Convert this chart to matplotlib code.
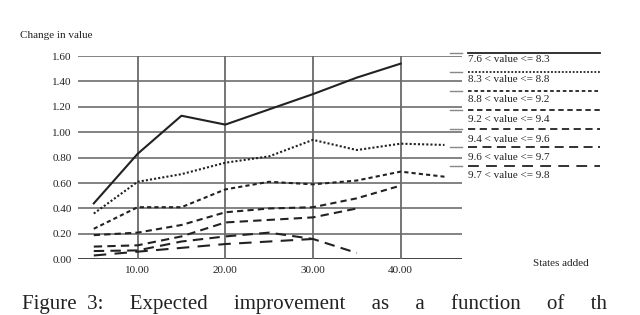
import matplotlib
matplotlib.use('Agg')
import matplotlib.pyplot as plt
from matplotlib.lines import Line2D

plt.rcParams['font.family'] = ['Liberation Serif', 'DejaVu Serif']

# states added (x) and change in value for each value band
states = [5, 10, 15, 20, 25, 30, 35, 40, 45]
labels = ['7.6 < value <= 8.3', '8.3 < value <= 8.8', '8.8 < value <= 9.2',
          '9.2 < value <= 9.4', '9.4 < value <= 9.6', '9.6 < value <= 9.7',
          '9.7 < value <= 9.8']
v1 = [0.44, 0.83, 1.13, 1.06, 1.18, 1.30, 1.43, 1.54]
v2 = [0.36, 0.61, 0.67, 0.76, 0.81, 0.94, 0.86, 0.91, 0.90]
v3 = [0.24, 0.41, 0.41, 0.55, 0.61, 0.59, 0.62, 0.69, 0.65]
v4 = [0.19, 0.21, 0.27, 0.37, 0.40, 0.41, 0.48, 0.58]
v5 = [0.10, 0.11, 0.18, 0.29, 0.31, 0.33, 0.40]
v6 = [0.065, 0.07, 0.14, 0.18, 0.21, 0.16, 0.05]
v7 = [0.03, 0.06, 0.09, 0.12, 0.14, 0.16]
series = [v1, v2, v3, v4, v5, v6, v7]

styles = ['-', (0, (1, 1)), (0, (2, 1.5)), (0, (3, 2)), (0, (4, 2.5)),
          (0, (5, 3)), (0, (6, 4))]

fig = plt.figure(figsize=(6.4, 3.15), dpi=100)
ax = fig.add_axes([78 / 640, 1 - 259.3 / 315, (462 - 78) / 640, (259.3 - 56) / 315])

ax.set_xlim(3.2, 47.0)
ax.set_ylim(0, 1.6)
for s in ax.spines.values():
    s.set_visible(False)

# grid
for yv in [0.2, 0.4, 0.6, 0.8, 1.0, 1.2, 1.4, 1.6]:
    ax.axhline(yv, color='#7a7a7a', lw=1.3, zorder=1)
ax.axhline(0, color='#222222', lw=1.2, zorder=1)
for xv in [10, 20, 30, 40]:
    ax.axvline(xv, color='#6a6a6a', lw=1.3, zorder=1)

for vals, ls in zip(series, styles):
    ax.plot(states[:len(vals)], vals, color='#222222', lw=1.5, linestyle=ls, zorder=3)

ax.set_yticks([0, 0.2, 0.4, 0.6, 0.8, 1.0, 1.2, 1.4, 1.6])
ax.set_yticklabels(['0.00', '0.20', '0.40', '0.60', '0.80', '1.00', '1.20', '1.40', '1.60'])
ax.set_xticks([10, 20, 30, 40])
ax.set_xticklabels(['10.00', '20.00', '30.00', '40.00'])
ax.tick_params(length=0, labelsize=8, colors='#222222')
ax.tick_params(axis='y', pad=4.5)
ax.tick_params(axis='x', pad=5)

fig.text(20 / 640, 1 - 35 / 315, 'Change in value', fontsize=8, va='center', color='#222222')
fig.text(533 / 640, 1 - 264 / 315, 'States added', fontsize=8, va='center', color='#222222')

# legend: sample line above each label
text_y = [60, 80, 100, 119, 139, 158, 176]
line_y = [53, 72, 91, 110, 129, 147, 166]
for lab, ls, ty, ly in zip(labels, styles, text_y, line_y):
    fig.add_artist(Line2D([468 / 640, 600 / 640], [1 - ly / 315, 1 - ly / 315],
                          color='#222222', lw=1.3, linestyle=ls))
    fig.add_artist(Line2D([450 / 640, 462 / 640], [1 - ly / 315, 1 - ly / 315],
                          color='#888888', lw=1.0))
    fig.text(468 / 640, 1 - ty / 315, lab, fontsize=8, va='center', color='#222222')

# caption at the bottom of the image
fig.text(22 / 640, 1 - 309 / 315,
         'Figure  3:     Expected     improvement     as     a     function     of     th',
         fontsize=15, va='baseline', color='#222222')

fig.savefig('out.png', dpi=100)
